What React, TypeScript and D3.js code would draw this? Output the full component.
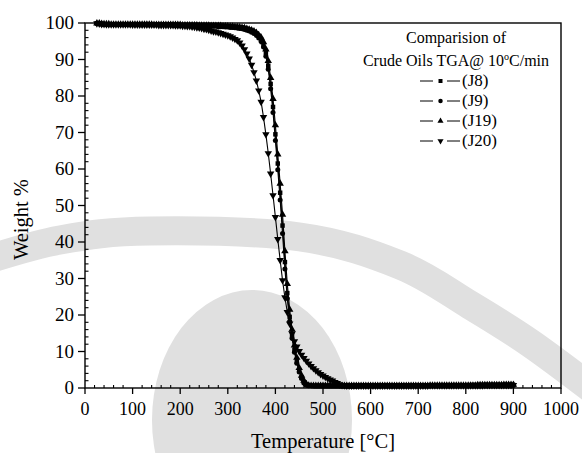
import React from "react";
import * as d3 from "d3";

const temperatures = [
  25, 30, 35, 40, 45, 50, 55, 60, 65, 70,
  75, 80, 85, 90, 95, 100, 105, 110, 115, 120,
  125, 130, 135, 140, 145, 150, 155, 160, 165, 170,
  175, 180, 185, 190, 195, 200, 205, 210, 215, 220,
  225, 230, 235, 240, 245, 250, 255, 260, 265, 270,
  275, 280, 285, 290, 295, 300, 305, 310, 315, 320,
  325, 330, 335, 340, 345, 350, 355, 360, 365, 370,
  375, 380, 385, 390, 395, 400, 405, 410, 415, 420,
  425, 430, 435, 440, 445, 450, 455, 460, 465, 470,
  475, 480, 485, 490, 495, 500, 505, 510, 515, 520,
  525, 530, 535, 540, 545, 550, 555, 560, 565, 570,
  575, 580, 585, 590, 595, 600, 605, 610, 615, 620,
  625, 630, 635, 640, 645, 650, 655, 660, 665, 670,
  675, 680, 685, 690, 695, 700, 705, 710, 715, 720,
  725, 730, 735, 740, 745, 750, 755, 760, 765, 770,
  775, 780, 785, 790, 795, 800, 805, 810, 815, 820,
  825, 830, 835, 840, 845, 850, 855, 860, 865, 870,
  875, 880, 885, 890, 895, 900,
];

const weightJ8 = [
  99.9, 99.8, 99.7, 99.7, 99.6, 99.6, 99.6, 99.6, 99.6, 99.6,
  99.6, 99.6, 99.6, 99.6, 99.6, 99.6, 99.6, 99.6, 99.6, 99.6,
  99.6, 99.6, 99.5, 99.5, 99.5, 99.5, 99.5, 99.5, 99.5, 99.5,
  99.5, 99.5, 99.5, 99.5, 99.5, 99.4, 99.4, 99.4, 99.4, 99.4,
  99.4, 99.4, 99.4, 99.4, 99.3, 99.3, 99.3, 99.3, 99.3, 99.3,
  99.3, 99.3, 99.2, 99.2, 99.2, 99.1, 99.1, 99.0, 99.0, 98.9,
  98.9, 98.8, 98.6, 98.4, 98.2, 97.9, 97.6, 97.2, 96.5, 95.6,
  94.2, 91.8, 88.3, 83.3, 77.0, 69.5, 61.5, 53.5, 44.5, 34.5,
  26.0, 19.5, 14.5, 10.5, 7.3, 4.8, 2.9, 1.6, 0.9, 0.6,
  0.6, 0.5, 0.5, 0.5, 0.5, 0.5, 0.5, 0.5, 0.5, 0.5,
  0.5, 0.5, 0.5, 0.5, 0.5, 0.5, 0.5, 0.5, 0.5, 0.5,
  0.6, 0.6, 0.6, 0.6, 0.6, 0.6, 0.6, 0.6, 0.6, 0.6,
  0.6, 0.6, 0.6, 0.6, 0.6, 0.6, 0.6, 0.6, 0.6, 0.6,
  0.6, 0.6, 0.6, 0.6, 0.6, 0.7, 0.7, 0.7, 0.7, 0.7,
  0.7, 0.7, 0.7, 0.7, 0.7, 0.7, 0.7, 0.7, 0.7, 0.7,
  0.7, 0.7, 0.7, 0.7, 0.7, 0.7, 0.7, 0.8, 0.8, 0.8,
  0.8, 0.8, 0.8, 0.8, 0.8, 0.8, 0.8, 0.8, 0.8, 0.8,
  0.8, 0.8, 0.8, 0.8, 0.8, 0.8,
];

const weightJ9 = [
  99.9, 99.8, 99.7, 99.6, 99.6, 99.6, 99.6, 99.6, 99.6, 99.6,
  99.6, 99.6, 99.6, 99.6, 99.5, 99.5, 99.5, 99.5, 99.5, 99.5,
  99.5, 99.5, 99.5, 99.5, 99.5, 99.5, 99.5, 99.5, 99.5, 99.5,
  99.5, 99.5, 99.4, 99.4, 99.4, 99.4, 99.4, 99.4, 99.3, 99.3,
  99.3, 99.3, 99.3, 99.2, 99.2, 99.2, 99.2, 99.1, 99.1, 99.1,
  99.1, 99.0, 99.0, 99.0, 98.9, 98.9, 98.8, 98.8, 98.7, 98.6,
  98.5, 98.4, 98.2, 98.0, 97.8, 97.5, 97.1, 96.6, 95.9, 94.9,
  93.4, 90.9, 87.3, 82.0, 75.5, 67.8, 59.8, 51.5, 42.3, 32.6,
  24.5, 18.3, 13.6, 9.8, 6.8, 4.4, 2.6, 1.4, 0.8, 0.6,
  0.6, 0.6, 0.6, 0.6, 0.6, 0.6, 0.6, 0.6, 0.6, 0.6,
  0.6, 0.6, 0.6, 0.6, 0.6, 0.6, 0.6, 0.6, 0.6, 0.6,
  0.6, 0.6, 0.6, 0.6, 0.6, 0.6, 0.6, 0.6, 0.6, 0.6,
  0.6, 0.6, 0.6, 0.6, 0.6, 0.6, 0.6, 0.6, 0.6, 0.6,
  0.6, 0.6, 0.6, 0.6, 0.6, 0.6, 0.6, 0.6, 0.7, 0.7,
  0.7, 0.7, 0.7, 0.7, 0.7, 0.7, 0.7, 0.7, 0.7, 0.7,
  0.7, 0.7, 0.7, 0.7, 0.7, 0.7, 0.7, 0.7, 0.7, 0.7,
  0.7, 0.7, 0.8, 0.8, 0.8, 0.8, 0.8, 0.8, 0.8, 0.8,
  0.8, 0.8, 0.8, 0.8, 0.8, 0.8,
];

const weightJ19 = [
  99.9, 99.9, 99.8, 99.7, 99.7, 99.7, 99.6, 99.6, 99.6, 99.6,
  99.6, 99.6, 99.6, 99.6, 99.6, 99.6, 99.6, 99.6, 99.6, 99.6,
  99.6, 99.6, 99.6, 99.6, 99.5, 99.5, 99.5, 99.5, 99.5, 99.5,
  99.5, 99.5, 99.5, 99.5, 99.5, 99.5, 99.4, 99.4, 99.4, 99.4,
  99.4, 99.4, 99.4, 99.3, 99.3, 99.3, 99.3, 99.3, 99.2, 99.2,
  99.2, 99.2, 99.2, 99.1, 99.1, 99.1, 99.0, 99.0, 98.9, 98.9,
  98.8, 98.7, 98.6, 98.4, 98.2, 98.0, 97.7, 97.3, 96.7, 96.0,
  94.8, 92.8, 89.6, 85.0, 79.2, 72.0, 64.0, 56.0, 47.5, 37.5,
  28.5, 21.5, 16.0, 11.7, 8.3, 5.5, 3.4, 2.0, 1.1, 0.7,
  0.6, 0.6, 0.6, 0.6, 0.6, 0.6, 0.6, 0.6, 0.6, 0.6,
  0.6, 0.6, 0.6, 0.6, 0.6, 0.6, 0.6, 0.6, 0.6, 0.6,
  0.6, 0.6, 0.6, 0.6, 0.6, 0.6, 0.6, 0.6, 0.6, 0.6,
  0.6, 0.6, 0.6, 0.6, 0.6, 0.6, 0.6, 0.6, 0.6, 0.6,
  0.6, 0.6, 0.6, 0.6, 0.6, 0.6, 0.6, 0.6, 0.6, 0.6,
  0.7, 0.7, 0.7, 0.7, 0.7, 0.7, 0.7, 0.7, 0.7, 0.7,
  0.7, 0.7, 0.7, 0.7, 0.7, 0.7, 0.7, 0.7, 0.7, 0.7,
  0.8, 0.8, 0.8, 0.8, 0.8, 0.8, 0.8, 0.8, 0.8, 0.8,
  0.8, 0.9, 0.9, 0.9, 0.9, 0.9,
];

const weightJ20 = [
  99.9, 99.8, 99.7, 99.7, 99.6, 99.6, 99.6, 99.6, 99.6, 99.6,
  99.6, 99.6, 99.6, 99.6, 99.6, 99.5, 99.5, 99.5, 99.5, 99.5,
  99.5, 99.5, 99.5, 99.5, 99.5, 99.5, 99.4, 99.4, 99.4, 99.4,
  99.4, 99.4, 99.4, 99.3, 99.3, 99.3, 99.2, 99.2, 99.1, 99.1,
  99.0, 98.9, 98.8, 98.7, 98.6, 98.4, 98.3, 98.1, 97.9, 97.7,
  97.6, 97.4, 97.2, 97.0, 96.8, 96.6, 96.3, 96.0, 95.6, 95.2,
  94.6, 93.8, 92.8, 91.6, 90.2, 88.5, 86.5, 84.2, 81.5, 78.4,
  74.2, 69.5, 64.3, 58.7, 52.8, 46.8, 40.8, 35.0, 29.5, 24.8,
  20.8, 17.6, 14.9, 12.8, 11.3, 10.1, 9.1, 8.2, 7.4, 6.7,
  6.0, 5.4, 4.8, 4.3, 3.8, 3.4, 3.0, 2.6, 2.3, 2.0,
  1.6, 1.3, 1.0, 0.8, 0.7, 0.6, 0.6, 0.6, 0.6, 0.6,
  0.6, 0.6, 0.6, 0.6, 0.6, 0.6, 0.6, 0.6, 0.6, 0.6,
  0.6, 0.6, 0.6, 0.6, 0.6, 0.6, 0.6, 0.6, 0.6, 0.6,
  0.6, 0.6, 0.6, 0.6, 0.6, 0.6, 0.6, 0.6, 0.6, 0.6,
  0.7, 0.7, 0.7, 0.7, 0.7, 0.7, 0.7, 0.7, 0.7, 0.7,
  0.7, 0.7, 0.7, 0.7, 0.7, 0.7, 0.7, 0.7, 0.7, 0.7,
  0.7, 0.7, 0.7, 0.8, 0.8, 0.8, 0.8, 0.8, 0.8, 0.8,
  0.8, 0.8, 0.8, 0.8, 0.8, 0.8,
];

const seriesNames = ["(J8)", "(J9)", "(J19)", "(J20)"];
const xTickLabels = [0, 100, 200, 300, 400, 500, 600, 700, 800, 900, 1000];
const yTickLabels = [0, 10, 20, 30, 40, 50, 60, 70, 80, 90, 100];
const legendTitle1 = "Comparision of";
const legendTitle2a = "Crude Oils TGA@ 10";
const legendTitle2b = "C/min";
const xTitle = "Temperature [\u00B0C]";
const yTitle = "Weight %";

const W = 582;
const H = 453;
const left = 85;
const right = 561;
const top = 23;
const bottom = 388;
const FONT = "'Liberation Serif', 'Times New Roman', serif";

const seriesList = [
  { name: seriesNames[0], values: weightJ8, symbol: d3.symbolSquare, size: 20, rot: 0 },
  { name: seriesNames[1], values: weightJ9, symbol: d3.symbolCircle, size: 20, rot: 0 },
  { name: seriesNames[2], values: weightJ19, symbol: d3.symbolTriangle, size: 24, rot: 0 },
  { name: seriesNames[3], values: weightJ20, symbol: d3.symbolTriangle, size: 24, rot: 180 },
];

export default function App() {
  const x = d3.scaleLinear().domain([0, 1000]).range([left, right]);
  const y = d3.scaleLinear().domain([0, 100]).range([bottom, top]);

  const xMinor = x.ticks(50).filter((t) => t % 100 !== 0);
  const yMinor = y.ticks(50).filter((t) => t % 10 !== 0);

  const line = d3
    .line<number>()
    .x((_, i) => x(temperatures[i]))
    .y((d) => y(d));

  // background watermark (decorative)
  const bandPath = d3.line().curve(d3.curveCardinal)([
    [-20, 262],
    [60, 240],
    [150, 231],
    [300, 237],
    [400, 265],
    [470, 305],
    [530, 343],
    [600, 395],
  ] as [number, number][]);

  const legendX = 420;
  const legendRows = [86, 106, 126, 146];

  return (
    <svg
      width={W}
      height={H}
      style={{ position: "absolute", left: 0, top: 0, background: "#fff" }}
      fontFamily={FONT}
    >
      <rect x={0} y={0} width={W} height={H} fill="#fff" />
      <g>
        <path d={bandPath || ""} fill="none" stroke="#e0e0e0" strokeWidth={29} />
        <ellipse cx={252} cy={420} rx={100} ry={130} fill="#e0e0e0" />
      </g>

      {/* frame */}
      <rect x={left} y={top} width={right - left} height={bottom - top} fill="none" stroke="#000" strokeWidth={1.4} />

      {/* x ticks */}
      {xTickLabels.map((t) => (
        <g key={"xt" + t}>
          <line x1={x(t)} x2={x(t)} y1={bottom} y2={bottom + 6} stroke="#000" strokeWidth={1.3} />
          <text x={x(t)} y={415} fontSize={18} textAnchor="middle" fill="#000">
            {t}
          </text>
        </g>
      ))}
      {xMinor.map((t) => (
        <line key={"xm" + t} x1={x(t)} x2={x(t)} y1={bottom} y2={bottom - 3} stroke="#000" strokeWidth={1.1} />
      ))}

      {/* y ticks */}
      {yTickLabels.map((t) => (
        <g key={"yt" + t}>
          <line x1={left - 7} x2={left} y1={y(t)} y2={y(t)} stroke="#000" strokeWidth={1.3} />
          <text x={74} y={y(t) + 6} fontSize={19} textAnchor="end" fill="#000">
            {t}
          </text>
        </g>
      ))}
      {yMinor.map((t) => (
        <line key={"ym" + t} x1={left} x2={left + 3.5} y1={y(t)} y2={y(t)} stroke="#000" strokeWidth={1.1} />
      ))}

      {/* axis titles */}
      <text x={(left + right) / 2} y={448} fontSize={20.5} textAnchor="middle" fill="#000">
        {xTitle}
      </text>
      <text
        transform={`translate(28, ${(top + bottom) / 2 + 14}) rotate(-90)`}
        fontSize={20.5}
        textAnchor="middle"
        fill="#000"
      >
        {yTitle}
      </text>

      {/* series */}
      {seriesList.map((s) => (
        <g key={s.name}>
          <path d={line(s.values) || ""} fill="none" stroke="#000" strokeWidth={1.1} />
          {s.values.map((v, i) => (
            <path
              key={i}
              d={d3.symbol().type(s.symbol).size(s.size)() || ""}
              transform={`translate(${x(temperatures[i])}, ${y(v)}) rotate(${s.rot})`}
              fill="#000"
            />
          ))}
        </g>
      ))}

      {/* legend */}
      <text x={456} y={43} fontSize={16} textAnchor="middle" fill="#000">
        {legendTitle1}
      </text>
      <text x={456} y={66} fontSize={16} textAnchor="middle" fill="#000">
        {legendTitle2a}
        <tspan dy={-6} fontSize={10}>o</tspan>
        <tspan dy={6}>{legendTitle2b}</tspan>
      </text>
      {seriesList.map((s, i) => (
        <g key={"lg" + s.name}>
          <line x1={legendX} x2={legendX + 13} y1={legendRows[i] - 5} y2={legendRows[i] - 5} stroke="#000" strokeWidth={1} />
          <line x1={legendX + 27} x2={legendX + 40} y1={legendRows[i] - 5} y2={legendRows[i] - 5} stroke="#000" strokeWidth={1} />
          <path
            d={d3.symbol().type(s.symbol).size(16)() || ""}
            transform={`translate(${legendX + 20.5}, ${legendRows[i] - 5}) rotate(${s.rot})`}
            fill="#000"
          />
          <text x={legendX + 42} y={legendRows[i]} fontSize={17} fill="#000">
            {s.name}
          </text>
        </g>
      ))}
    </svg>
  );
}
